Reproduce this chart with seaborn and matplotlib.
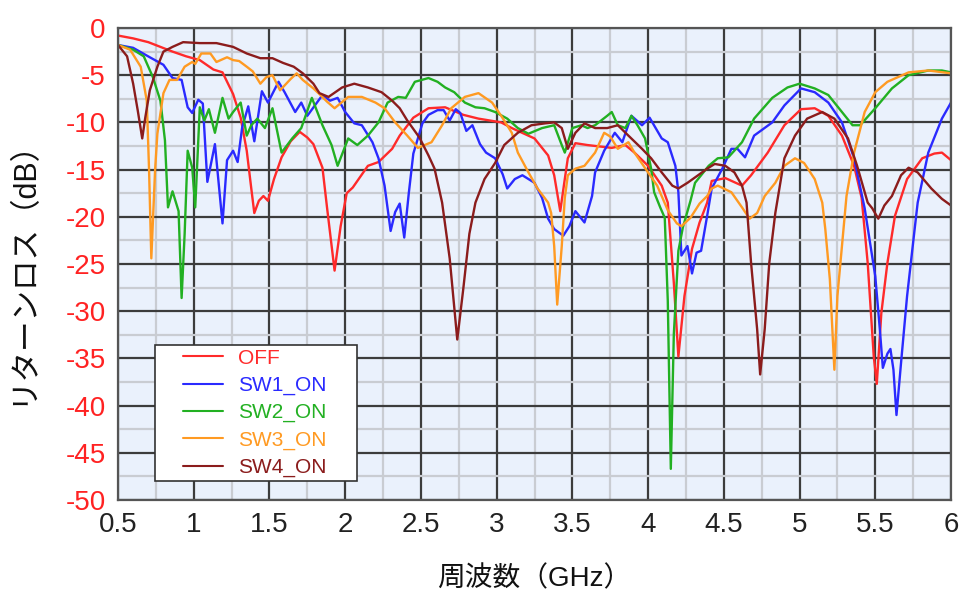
import numpy as np
import pandas as pd
import matplotlib
matplotlib.use("Agg")
import matplotlib.pyplot as plt
from matplotlib.ticker import MultipleLocator
import seaborn as sns

# ---------------- data ----------------
series_names = ["OFF", "SW1_ON", "SW2_ON", "SW3_ON", "SW4_ON"]
series_colors = ["#ff2a2a", "#2a2aff", "#22b022", "#ff9a22", "#8b1c1c"]

off_f = [0.5,0.6,0.7,0.78,0.86,0.95,1.04,1.13,1.19,1.26,1.31,1.35,1.38,1.40,1.43,1.46,1.49,1.53,1.58,1.64,
         1.70,1.75,1.79,1.85,1.88,1.93,1.97,2.01,2.05,2.15,2.22,2.31,2.36,2.45,2.55,2.66,2.78,2.88,3.03,3.10,
         3.25,3.34,3.38,3.42,3.45,3.47,3.52,3.60,3.76,3.85,3.91,4.00,4.09,4.13,4.17,4.20,4.24,4.29,4.34,4.39,
         4.42,4.51,4.62,4.68,4.79,4.90,5.01,5.10,5.19,5.28,5.36,5.41,5.45,5.49,5.51,5.54,5.58,5.63,5.71,5.81,
         5.89,5.94,6.0]
off_db = [-0.8,-1.1,-1.5,-2.0,-2.5,-3.0,-3.4,-4.4,-4.7,-7.0,-9.5,-13.0,-17.0,-19.6,-18.3,-17.8,-18.3,-16.0,-13.7,-12.0,
          -11.0,-11.6,-12.3,-14.8,-19.0,-25.7,-21.0,-17.5,-16.9,-14.6,-14.2,-12.8,-11.4,-9.5,-8.5,-8.4,-9.2,-9.6,-10.0,-10.6,
          -11.7,-13.5,-15.6,-19.4,-16.0,-13.8,-12.2,-12.4,-12.7,-12.4,-13.2,-14.6,-16.7,-18.5,-27.0,-34.8,-28.4,-23.4,-20.6,-18.5,
          -16.2,-15.9,-16.7,-15.6,-13.2,-10.3,-8.6,-8.5,-9.3,-11.4,-14.6,-18.0,-24.9,-34.8,-37.7,-30.2,-24.9,-19.9,-16.0,-13.8,
          -13.3,-13.2,-14.0]

sw1_f = [0.5,0.6,0.71,0.8,0.86,0.92,0.96,0.99,1.03,1.06,1.09,1.14,1.19,1.22,1.26,1.29,1.32,1.36,1.40,1.45,
         1.49,1.56,1.60,1.67,1.71,1.75,1.80,1.85,1.90,1.95,2.00,2.06,2.11,2.18,2.22,2.26,2.30,2.33,2.36,2.39,
         2.42,2.45,2.51,2.55,2.61,2.65,2.69,2.73,2.76,2.80,2.84,2.89,2.93,2.99,3.04,3.07,3.12,3.17,3.25,3.30,
         3.34,3.38,3.44,3.48,3.52,3.58,3.63,3.65,3.71,3.78,3.83,3.89,3.96,4.01,4.09,4.13,4.18,4.20,4.22,4.26,
         4.29,4.32,4.35,4.39,4.42,4.49,4.55,4.59,4.64,4.70,4.82,4.90,5.01,5.10,5.19,5.28,5.36,5.43,5.50,5.53,
         5.55,5.58,5.60,5.62,5.64,5.67,5.71,5.76,5.78,5.85,5.94,6.0]
sw1_db = [-1.8,-2.1,-3.1,-3.9,-5.3,-5.5,-8.4,-9.0,-7.6,-8.0,-16.3,-12.3,-20.7,-14.0,-13.0,-14.2,-10.5,-8.3,-12.0,-6.7,
          -7.9,-5.7,-6.8,-8.9,-7.9,-9.3,-8.2,-7.1,-7.7,-7.4,-8.9,-10.1,-10.3,-12.1,-13.8,-16.7,-21.5,-19.5,-18.6,-22.2,
          -17.5,-13.3,-10.1,-9.2,-8.7,-8.7,-9.8,-8.6,-9.0,-10.9,-10.3,-12.3,-13.2,-13.8,-15.5,-17.0,-16.0,-15.6,-16.4,-18.0,
          -20.2,-21.3,-22.0,-21.0,-19.4,-20.6,-17.8,-15.3,-13.0,-11.1,-12.1,-9.3,-10.3,-9.5,-11.7,-12.1,-14.6,-17.4,-24.1,-23.1,
          -26.0,-23.8,-23.6,-19.9,-17.0,-14.9,-12.8,-12.8,-13.7,-11.4,-10.0,-8.2,-6.4,-6.8,-7.9,-10.0,-13.8,-19.1,-26.3,-31.9,
          -36.0,-34.5,-34.0,-36.2,-41.0,-35.5,-28.4,-21.3,-18.5,-13.2,-9.6,-7.9]

sw2_f = [0.5,0.6,0.67,0.73,0.78,0.81,0.83,0.86,0.90,0.92,0.94,0.96,0.99,1.01,1.04,1.07,1.10,1.14,1.19,1.23,
         1.26,1.31,1.35,1.38,1.42,1.47,1.52,1.58,1.65,1.71,1.78,1.85,1.91,1.95,2.02,2.08,2.15,2.22,2.28,2.35,
         2.40,2.46,2.55,2.61,2.66,2.72,2.79,2.86,2.92,2.99,3.07,3.14,3.21,3.30,3.38,3.43,3.45,3.50,3.56,3.60,
         3.65,3.73,3.76,3.80,3.85,3.89,3.93,3.98,4.02,4.04,4.08,4.11,4.13,4.15,4.17,4.20,4.23,4.28,4.31,4.40,
         4.46,4.53,4.62,4.70,4.82,4.92,5.00,5.10,5.19,5.28,5.35,5.40,5.50,5.61,5.72,5.85,5.94,6.0]
sw2_db = [-1.8,-2.3,-3.0,-5.2,-7.7,-11.9,-19.0,-17.3,-19.4,-28.6,-21.8,-13.0,-14.8,-19.0,-8.4,-9.8,-8.6,-11.1,-7.4,-9.6,
          -8.9,-7.9,-11.4,-10.3,-9.6,-10.6,-8.5,-13.2,-11.7,-10.6,-7.4,-10.3,-12.4,-14.6,-11.7,-12.4,-11.4,-10.0,-7.9,-7.3,
          -7.4,-5.7,-5.3,-5.7,-6.3,-6.8,-7.9,-8.4,-8.5,-8.9,-9.6,-10.6,-11.2,-10.6,-10.3,-12.4,-13.2,-10.6,-10.3,-10.6,
          -10.3,-9.3,-8.9,-10.3,-10.6,-9.3,-10.3,-11.7,-14.9,-17.4,-19.0,-20.1,-28.9,-46.7,-32.4,-23.6,-21.1,-18.3,-16.4,-14.6,
          -13.8,-13.7,-12.1,-9.6,-7.4,-6.3,-5.9,-6.4,-7.1,-8.9,-10.3,-10.3,-8.5,-6.4,-5.0,-4.5,-4.5,-4.7]

sw3_f = [0.5,0.58,0.65,0.69,0.705,0.72,0.745,0.76,0.80,0.84,0.89,0.94,0.99,1.01,1.05,1.11,1.15,1.22,1.26,1.30,
         1.35,1.39,1.44,1.48,1.52,1.57,1.64,1.68,1.72,1.79,1.83,1.88,1.93,2.02,2.11,2.20,2.26,2.33,2.41,2.48,
         2.57,2.64,2.70,2.79,2.88,2.97,3.03,3.10,3.14,3.21,3.27,3.34,3.36,3.38,3.40,3.43,3.45,3.47,3.52,3.58,
         3.65,3.71,3.75,3.80,3.87,3.91,4.00,4.06,4.13,4.19,4.22,4.28,4.34,4.39,4.42,4.46,4.55,4.62,4.67,4.72,
         4.77,4.84,4.90,4.97,5.03,5.10,5.15,5.17,5.20,5.23,5.25,5.28,5.31,5.36,5.43,5.50,5.58,5.72,5.85,6.0]
sw3_db = [-1.8,-2.3,-4.1,-7.7,-15.0,-24.4,-15.0,-11.2,-6.9,-5.5,-5.5,-4.1,-3.6,-3.8,-2.7,-2.7,-3.6,-3.1,-3.4,-3.5,
          -4.1,-4.6,-5.9,-5.2,-5.0,-6.6,-5.4,-4.8,-5.5,-6.4,-7.0,-7.8,-8.5,-7.3,-7.3,-7.9,-8.5,-10.0,-11.4,-12.7,
          -12.1,-10.3,-8.5,-7.3,-6.9,-7.9,-9.3,-11.1,-13.2,-15.3,-17.0,-18.5,-19.6,-23.1,-29.3,-23.1,-18.0,-15.6,-14.9,-14.6,
          -13.2,-11.1,-11.5,-12.8,-12.1,-13.2,-15.3,-16.7,-19.3,-20.7,-21.0,-20.1,-18.6,-17.8,-17.0,-16.7,-17.4,-19.0,-20.2,-19.6,
          -17.8,-16.4,-14.6,-13.8,-14.3,-16.0,-18.5,-21.3,-26.6,-36.2,-28.4,-23.1,-17.8,-13.2,-8.9,-6.8,-5.7,-4.7,-4.5,-4.8]

sw4_f = [0.5,0.56,0.60,0.63,0.66,0.68,0.71,0.76,0.80,0.86,0.93,1.04,1.15,1.26,1.35,1.44,1.52,1.59,1.66,1.72,
         1.79,1.83,1.89,1.98,2.06,2.15,2.24,2.31,2.36,2.41,2.49,2.55,2.59,2.64,2.69,2.74,2.78,2.82,2.86,2.92,
         2.99,3.05,3.14,3.23,3.32,3.38,3.43,3.47,3.52,3.58,3.65,3.73,3.80,3.87,3.96,4.02,4.09,4.16,4.20,4.26,
         4.33,4.39,4.44,4.51,4.57,4.62,4.65,4.68,4.72,4.74,4.77,4.80,4.84,4.90,4.97,5.05,5.15,5.23,5.32,5.38,
         5.45,5.48,5.52,5.56,5.61,5.67,5.72,5.78,5.87,5.94,6.0]
sw4_db = [-1.8,-3.0,-5.9,-8.7,-11.7,-9.5,-6.6,-4.1,-2.5,-2.0,-1.5,-1.6,-1.6,-2.0,-2.7,-3.2,-3.2,-3.7,-4.1,-4.8,
          -5.9,-6.9,-7.3,-6.3,-5.9,-6.3,-6.8,-7.7,-8.5,-9.8,-11.6,-13.5,-14.9,-18.5,-24.4,-33.0,-27.6,-21.8,-18.5,-16.0,
          -14.3,-12.4,-11.1,-10.3,-10.1,-10.0,-10.6,-12.8,-11.1,-10.1,-10.6,-10.6,-10.3,-11.4,-12.8,-13.8,-15.3,-16.7,-17.0,-16.4,
          -15.6,-14.9,-14.4,-14.6,-15.3,-16.7,-18.5,-24.9,-31.9,-36.7,-31.9,-24.9,-19.6,-13.8,-11.4,-9.6,-8.9,-9.6,-11.7,-14.6,
          -18.5,-19.1,-20.2,-18.8,-17.8,-15.6,-14.8,-15.3,-17.0,-18.1,-18.8]

x_ticks = [0.5, 1, 1.5, 2, 2.5, 3, 3.5, 4, 4.5, 5, 5.5, 6]
x_tick_labels = ["0.5", "1", "1.5", "2", "2.5", "3", "3.5", "4", "4.5", "5", "5.5", "6"]
y_ticks = [0, -5, -10, -15, -20, -25, -30, -35, -40, -45, -50]
y_tick_labels = ["0", "-5", "-10", "-15", "-20", "-25", "-30", "-35", "-40", "-45", "-50"]
x_label = "周波数（GHz）"
y_label = "リターンロス（dB）"

all_f = [off_f, sw1_f, sw2_f, sw3_f, sw4_f]
all_db = [off_db, sw1_db, sw2_db, sw3_db, sw4_db]

frames = []
for name, f, d in zip(series_names, all_f, all_db):
    frames.append(pd.DataFrame({"freq": f, "rl": d, "series": name}))
df = pd.concat(frames, ignore_index=True)

# ---------------- style ----------------
sns.set_theme(style="white")
plt.rcParams["font.family"] = ["Liberation Sans", "Noto Sans CJK JP", "DejaVu Sans"]

fig = plt.figure(figsize=(9.63, 5.94), dpi=100)
ax = fig.add_axes([118/963, 1 - 500/594, (951-118)/963, (500-28)/594])
ax.set_facecolor("#eaf1fc")

sns.lineplot(data=df, x="freq", y="rl", hue="series", hue_order=series_names,
             palette=dict(zip(series_names, series_colors)), estimator=None, sort=False,
             linewidth=1.7, ax=ax)

ax.set_xlim(0.5, 6)
ax.set_ylim(-50, 0)
ax.set_xticks(x_ticks)
ax.set_xticklabels(x_tick_labels)
ax.set_yticks(y_ticks)
ax.set_yticklabels(y_tick_labels)
ax.xaxis.set_minor_locator(MultipleLocator(0.25))
ax.yaxis.set_minor_locator(MultipleLocator(2.5))

ax.grid(which="minor", color="#c9ccd2", linewidth=1.6, zorder=0)
ax.grid(which="major", color="#3c3c3c", linewidth=1.6, zorder=0)
ax.set_axisbelow(True)

for s in ax.spines.values():
    s.set_color("#555555")
    s.set_linewidth(1.6)

ax.tick_params(axis="both", which="major", direction="out", length=6, width=1.4,
               color="#3c3c3c", labelsize=20, pad=3)
ax.tick_params(axis="both", which="minor", length=0)
ax.tick_params(axis="y", labelcolor="#ff2222")
ax.tick_params(axis="x", labelcolor="#222222")

ax.set_xlabel(x_label, fontsize=20, color="#111111", labelpad=20)
ax.set_ylabel(y_label, fontsize=22, color="#111111", labelpad=20)

handles, labels = ax.get_legend_handles_labels()
leg_fs = 15
leg = ax.legend(handles, labels, loc="upper left",
                bbox_to_anchor=((155-118)/833, (500-345)/472 - 0.01, (357-155)/833, 0.01),
                mode="expand", fontsize=leg_fs, frameon=True, fancybox=False,
                edgecolor="#333333", framealpha=1.0, handlelength=3.27,
                handletextpad=0.53, labelspacing=0.39, borderpad=0.18,
                borderaxespad=0)
leg.get_frame().set_linewidth(1.2)
for txt, c in zip(leg.get_texts(), series_colors):
    txt.set_color(c)
shift_pt = 24 * 72 / 100.0
for ln in leg.legend_handles:
    ln.set_linewidth(1.5)
    xd = list(ln.get_xdata())
    if len(xd) >= 2:
        ln.set_xdata([xd[0] + shift_pt, xd[-1] - 2.5])
        ln.set_ydata([ln.get_ydata()[0]] * 2)

fig.savefig("out.png", dpi=100)
